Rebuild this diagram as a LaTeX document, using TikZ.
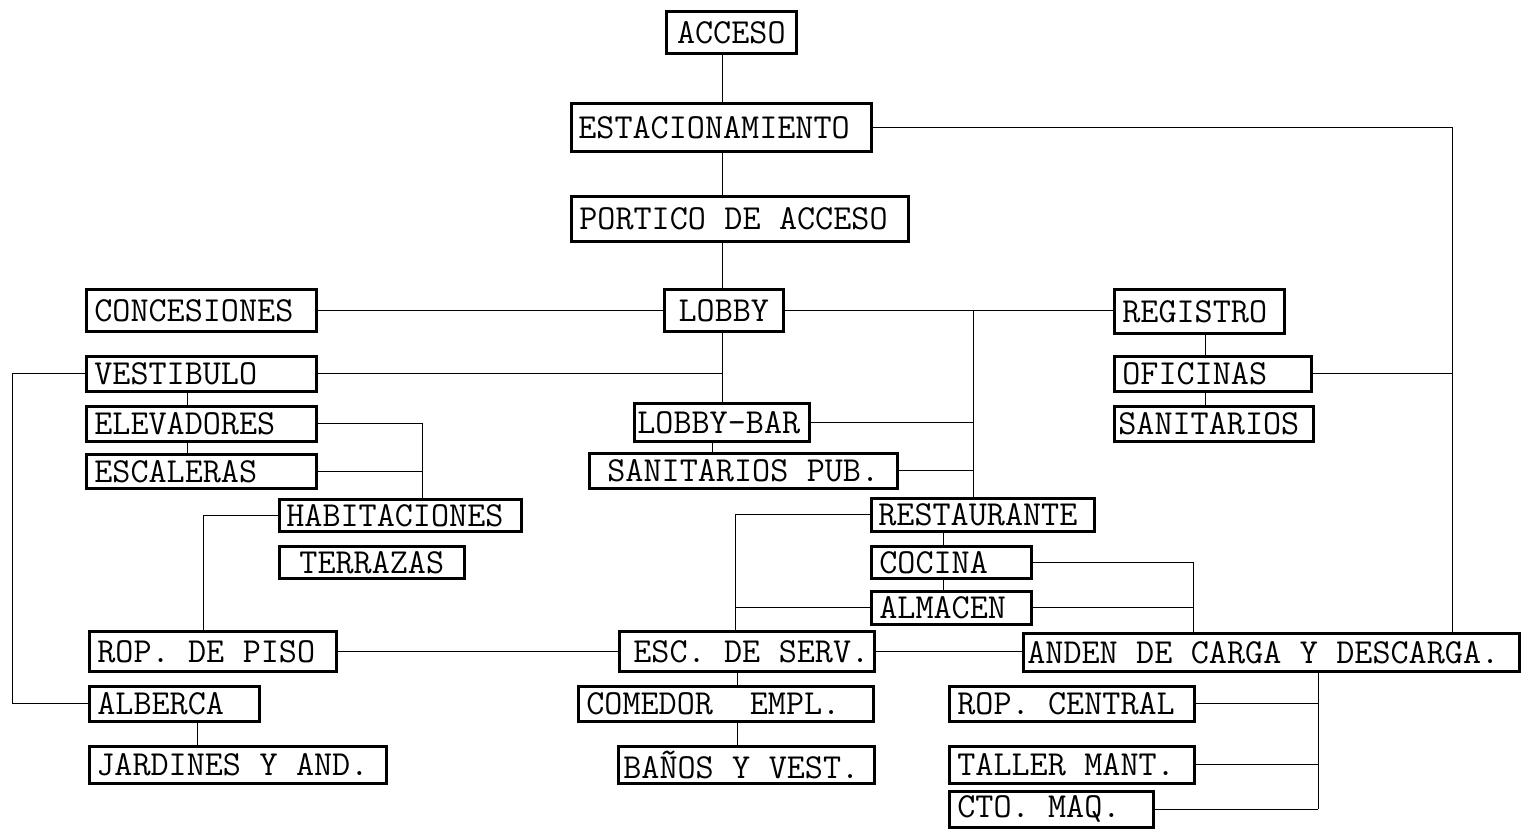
\documentclass[tikz,border=0pt]{standalone}
\usepackage{fontspec}
\usetikzlibrary{positioning, backgrounds}

\protected\def\roomfont{\ttfamily\fontsize{20}{22}\selectfont}
\newcommand\gp{\nobreak\hskip0.525em\relax}

\tikzset{
  room/.style={draw, line width=1.5pt, fill=white, anchor=north west,
    font=\roomfont, inner xsep=0.16cm, inner ysep=0pt, align=left},
  link/.style={line width=1.2pt}
}

\begin{document}
\begin{tikzpicture}[x=0.02cm, y=-0.02cm]
  \useasboundingbox (0,0) rectangle (1524,828);

  % Top spine
  \node[room, text width=2.28cm, minimum height=0.84cm, align=center] (acceso) at (665,10) {ACCESO};
  \node[room, text width=5.72cm, minimum height=0.96cm, inner xsep=0.14cm] (estac) at (570,102) {ESTACIONAMIENTO};
  \node[room, text width=6.42cm, minimum height=0.90cm] (portico) at (570,195) {PORTICO\gp DE\gp ACCESO};
  \node[room, text width=2.06cm, minimum height=0.84cm, align=center] (lobby) at (663,288) {LOBBY};

  % Left wing
  \node[room, text width=4.28cm, minimum height=0.84cm] (conces) at (85,288) {CONCESIONES};
  \node[room, text width=4.28cm, minimum height=0.70cm] (vestib) at (85,355) {VESTIBULO};
  \node[room, text width=4.28cm, minimum height=0.70cm] (elev) at (85,405) {ELEVADORES};
  \node[room, text width=4.28cm, minimum height=0.68cm] (escal) at (85,453) {ESCALERAS};
  \node[room, text width=4.56cm, minimum height=0.64cm, inner xsep=0.14cm] (habit) at (278,498) {HABITACIONES};
  \node[room, text width=3.38cm, minimum height=0.64cm, align=center] (terr) at (278,545) {TERRAZAS};
  \node[room, text width=4.62cm, minimum height=0.80cm] (roppiso) at (88,630) {ROP.\gp DE\gp PISO};
  \node[room, text width=3.08cm, minimum height=0.70cm] (alberca) at (88,685) {ALBERCA};
  \node[room, text width=5.66cm, minimum height=0.74cm, inner xsep=0.14cm] (jardines) at (88,745) {JARDINES\gp Y\gp AND.};

  % Centre
  \node[room, text width=3.38cm, minimum height=0.76cm, inner xsep=0.06cm] (lobbybar) at (633,402) {LOBBY-BAR};
  \node[room, text width=5.84cm, minimum height=0.70cm, align=center] (sanpub) at (588,452) {SANITARIOS\gp PUB.};
  \node[room, text width=4.18cm, minimum height=0.66cm, inner xsep=0.14cm] (rest) at (870,497) {RESTAURANTE};
  \node[room, text width=2.88cm, minimum height=0.64cm] (cocina) at (870,545) {COCINA};
  \node[room, text width=2.88cm, minimum height=0.66cm] (almacen) at (870,590) {ALMACEN};
  \node[room, text width=4.90cm, minimum height=0.80cm, inner xsep=0.1cm, align=right] (escserv) at (618,630) {ESC.\gp DE\gp SERV.};
  \node[room, text width=5.58cm, minimum height=0.70cm] (comedor) at (577,685) {COMEDOR\gp\gp EMPL.};
  \node[room, text width=4.92cm, minimum height=0.74cm, inner xsep=0.1cm] (banos) at (617,745) {BAÑOS\gp Y\gp VEST.};

  % Right wing
  \node[room, text width=3.08cm, minimum height=0.88cm] (registro) at (1113,288) {REGISTRO};
  \node[room, text width=3.62cm, minimum height=0.70cm] (oficinas) at (1113,355) {OFICINAS};
  \node[room, text width=3.82cm, minimum height=0.70cm, inner xsep=0.08cm] (sanit) at (1113,405) {SANITARIOS};
  \node[room, text width=9.76cm, minimum height=0.76cm, inner xsep=0.08cm] (anden) at (1022,632) {ANDEN\gp DE\gp CARGA\gp Y\gp DESCARGA.};
  \node[room, text width=4.58cm, minimum height=0.70cm] (ropcent) at (948,685) {ROP.\gp CENTRAL};
  \node[room, text width=4.58cm, minimum height=0.74cm] (taller) at (948,745) {TALLER\gp MANT.};
  \node[room, text width=3.76cm, minimum height=0.72cm] (ctomaq) at (948,790) {CTO.\gp MAQ.};

  % Columns of the connectors
  \coordinate (sp) at (722,0);
  \coordinate (lf) at (12,0);
  \coordinate (vx) at (187,0);
  \coordinate (hx) at (422,0);
  \coordinate (px) at (203,0);
  \coordinate (ax) at (197,0);
  \coordinate (bx) at (712,0);
  \coordinate (mid) at (973,0);
  \coordinate (sx) at (735,0);
  \coordinate (cx) at (943,0);
  \coordinate (kx) at (1193,0);
  \coordinate (ex) at (737,0);
  \coordinate (dx) at (1318,0);
  \coordinate (rx) at (1205,0);
  \coordinate (rt) at (1452,0);

  \begin{scope}[on background layer, link]
    % spine and top branch
    \draw (acceso.south -| sp) -- (lobbybar.north -| sp);
    \draw (estac.east) -- (estac.east -| rt) -- (anden.north -| rt);
    \draw (conces.east) -- (conces.east -| lobby.west);
    \draw (lobby.east) -- (lobby.east -| registro.west);
    \draw (lobby.east -| mid) -- (rest.north -| mid);
    % left wing
    \draw (vestib.east) -- (vestib.east -| sp);
    \draw (vestib.west) -- (vestib.west -| lf) -- (alberca.west -| lf) -- (alberca.west);
    \draw (vestib.south -| vx) -- (escal.north -| vx);
    \draw (elev.east) -- (elev.east -| hx) -- (habit.north -| hx);
    \draw (escal.east) -- (escal.east -| hx);
    \draw (habit.west) -- (habit.west -| px) -- (roppiso.north -| px);
    \draw (roppiso.east) -- (roppiso.east -| escserv.west);
    \draw (alberca.south -| ax) -- (jardines.north -| ax);
    % centre
    \draw (lobbybar.east) -- (lobbybar.east -| mid);
    \draw (sanpub.east) -- (sanpub.east -| mid);
    \draw (lobbybar.south -| bx) -- (sanpub.north -| bx);
    \draw (rest.west) -- (rest.west -| sx) -- (escserv.north -| sx);
    \draw (almacen.west) -- (almacen.west -| sx);
    \draw (rest.south -| cx) -- (almacen.north -| cx);
    \draw (cocina.east) -- (cocina.east -| kx) -- (anden.north -| kx);
    \draw (almacen.east) -- (almacen.east -| kx);
    \draw (escserv.east) -- (escserv.east -| anden.west);
    \draw (escserv.south -| ex) -- (banos.north -| ex);
    % right wing
    \draw (registro.south -| rx) -- (sanit.north -| rx);
    \draw (oficinas.east) -- (oficinas.east -| rt);
    \draw (anden.south -| dx) -- (ctomaq.east -| dx);
    \draw (ropcent.east) -- (ropcent.east -| dx);
    \draw (taller.east) -- (taller.east -| dx);
    \draw (ctomaq.east) -- (ctomaq.east -| dx);
  \end{scope}
\end{tikzpicture}
\end{document}
